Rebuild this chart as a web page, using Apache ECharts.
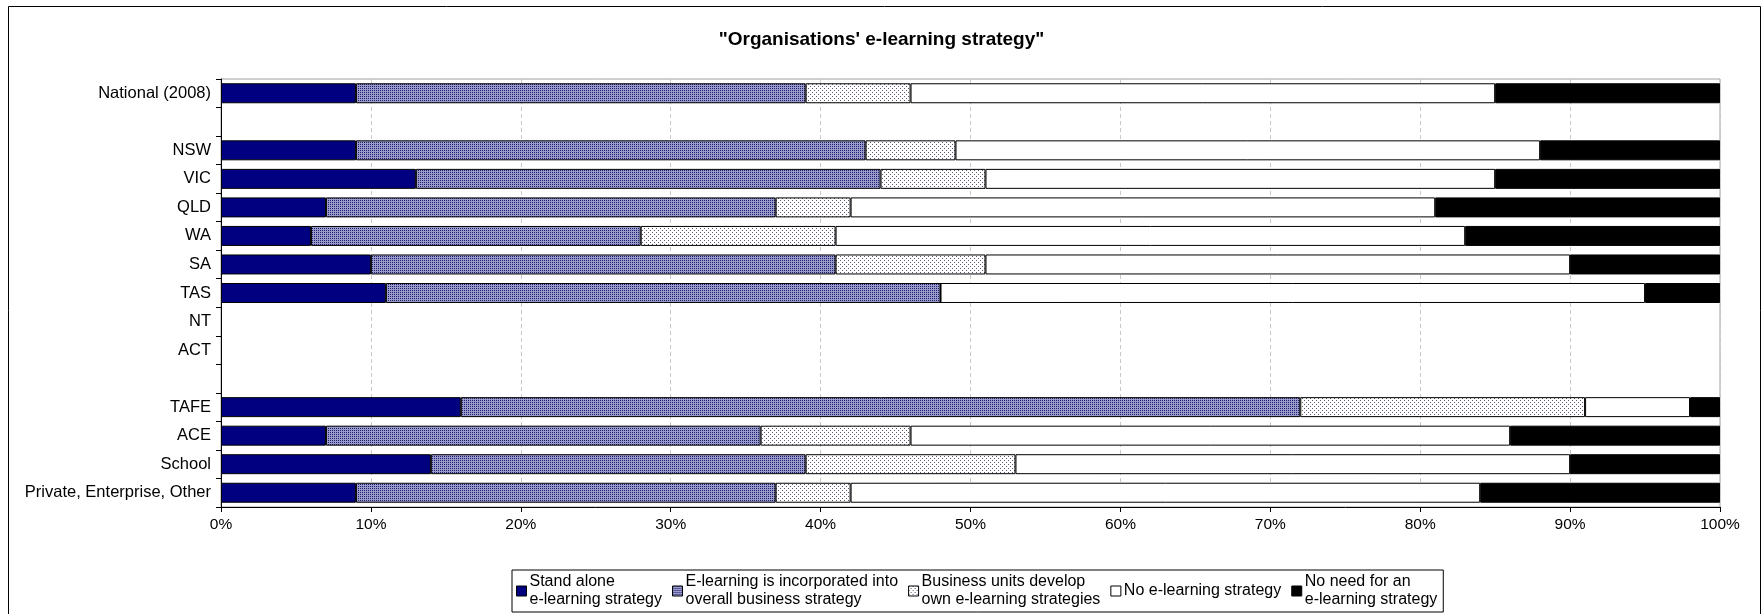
<!DOCTYPE html>
<html>
<head>
<meta charset="utf-8">
<script src="https://cdn.jsdelivr.net/npm/echarts@6/dist/echarts.min.js"></script>
<style>
  html, body { margin: 0; padding: 0; background: #fff; }
  #chart { width: 1763px; height: 614px; }
</style>
</head>
<body>
<div id="chart"></div>
<script>
// categories top to bottom ('' rows are spacers in the original)
var categories = ['National (2008)', ' ', 'NSW', 'VIC', 'QLD', 'WA', 'SA', 'TAS', 'NT', 'ACT', '  ', 'TAFE', 'ACE', 'School', 'Private, Enterprise, Other']
var standAlone   = [9,  null, 9,  13, 7,  6,  10, 11, null, null, null, 16, 7,  14, 9]
var incorporated = [30, null, 34, 31, 30, 22, 31, 37, null, null, null, 56, 29, 25, 28]
var unitsOwn     = [7,  null, 6,  7,  5,  13, 10, 0,  null, null, null, 19, 10, 14, 5]
var noStrategy   = [39, null, 39, 34, 39, 42, 39, 47, null, null, null, 7,  40, 37, 42]
var noNeed       = [15, null, 12, 15, 19, 17, 10, 5,  null, null, null, 2,  14, 10, 16]
var xTicks = [0, 10, 20, 30, 40, 50, 60, 70, 80, 90, 100]
var seriesNames = [
  'Stand alone\ne-learning strategy',
  'E-learning is incorporated into\noverall business strategy',
  'Business units develop\nown e-learning strategies',
  'No e-learning strategy',
  'No need for an\ne-learning strategy'
]

// small canvas fills to imitate the excel hatch patterns
function makePattern(size, bg, dot, pts) {
  var c = document.createElement('canvas')
  c.width = size
  c.height = size
  var ctx = c.getContext('2d')
  ctx.fillStyle = bg
  ctx.fillRect(0, 0, size, size)
  ctx.fillStyle = dot
  pts.forEach(function(p) { ctx.fillRect(p[0], p[1], 1, 1) })
  return { image: c, repeat: 'repeat' }
}
var hatchBlue = makePattern(2, '#9a9acb', '#1e1e6e', [[0, 0]])
var hatchDots = makePattern(4, '#ffffff', '#5a5a78', [[0, 0], [2, 2]])

var fills = ['#000080', hatchBlue, hatchDots, '#ffffff', '#000000']
var values = [standAlone, incorporated, unitsOwn, noStrategy, noNeed]

var FONT = 'Liberation Sans, Arial, sans-serif'

var chart = echarts.init(document.getElementById('chart'))
chart.setOption({
  animation: false,
  textStyle: { fontFamily: FONT },
  title: {
    text: '"Organisations\' e-learning strategy"',
    left: 'center',
    top: 25,
    textStyle: { fontFamily: FONT, fontSize: 19, fontWeight: 'bold', color: '#000' }
  },
  graphic: [{
    type: 'rect',
    shape: { x: 8.5, y: 6.5, width: 1752, height: 640 },
    style: { fill: 'none', stroke: '#000', lineWidth: 1 },
    silent: true
  }],
  legend: {
    top: 570,
    left: 512,
    itemWidth: 10,
    itemHeight: 10,
    itemGap: 10,
    padding: [3, 6, 3, 4],
    borderColor: '#000',
    borderWidth: 1,
    icon: 'rect',
    itemStyle: { borderColor: '#000', borderWidth: 1 },
    textStyle: { fontFamily: FONT, fontSize: 16, color: '#000', lineHeight: 18, padding: [0, 0, 0, -2] },
    data: seriesNames
  },
  grid: {
    left: 221,
    right: 43,
    top: 79,
    bottom: 107,
    show: true,
    borderColor: '#a0a0a0',
    borderWidth: 1
  },
  xAxis: {
    type: 'value',
    min: 0,
    max: 100,
    interval: 10,
    axisLine: { show: true, lineStyle: { color: '#000' } },
    axisTick: { show: true, length: 5, lineStyle: { color: '#000' } },
    axisLabel: {
      formatter: function(v) { return xTicks.indexOf(v) >= 0 ? v + '%' : '' },
      fontFamily: FONT, fontSize: 15.5, color: '#000', margin: 10
    },
    splitLine: { show: true, lineStyle: { color: '#c8c8c8', type: [4, 3] } }
  },
  yAxis: {
    type: 'category',
    inverse: true,
    data: categories,
    axisLine: { show: true, lineStyle: { color: '#000' } },
    axisTick: { show: true, length: 5, lineStyle: { color: '#000' } },
    axisLabel: { fontFamily: FONT, fontSize: 16.5, color: '#000', margin: 10 },
    splitLine: { show: false }
  },
  series: values.map(function(arr, i) {
    return {
      name: seriesNames[i],
      type: 'bar',
      stack: 'total',
      barWidth: '70%',
      data: arr,
      itemStyle: {
        color: fills[i],
        borderColor: '#000',
        borderWidth: 1
      }
    }
  })
})
</script>
</body>
</html>
